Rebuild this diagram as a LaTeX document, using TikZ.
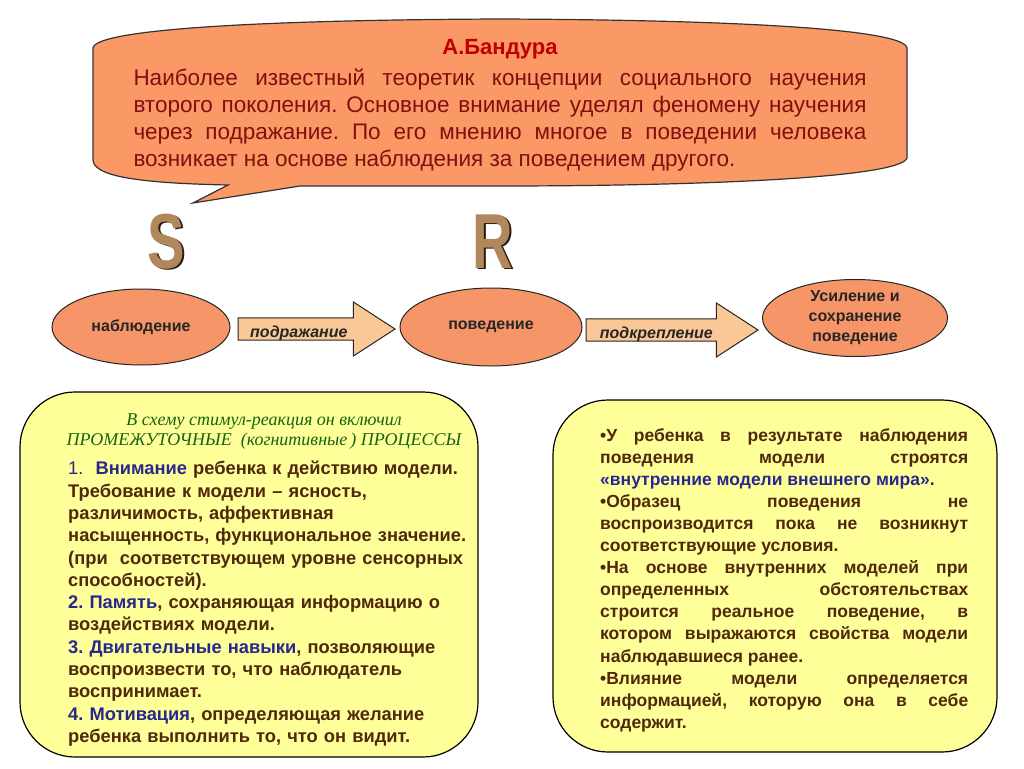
\documentclass[tikz,border=0pt]{standalone}
\usepackage{fontspec}
\setmainfont{Liberation Sans}
\newfontfamily\headfont{Liberation Serif}
\newfontfamily\srfont[FakeStretch=0.72]{Liberation Sans}
\usetikzlibrary{shapes.geometric,shapes.arrows,positioning}
\frenchspacing

\definecolor{bubbleorange}{RGB}{250,152,102}
\definecolor{stageorange}{RGB}{246,150,104}
\definecolor{peach}{RGB}{250,200,150}
\definecolor{paleyellow}{RGB}{255,255,153}
\definecolor{titlered}{RGB}{192,0,0}
\definecolor{bubbletext}{RGB}{128,16,16}
\definecolor{bodybrown}{RGB}{80,40,12}
\definecolor{keyblue}{RGB}{40,40,140}
\definecolor{headgreen}{RGB}{20,100,20}
\definecolor{lettertan}{RGB}{176,136,92}
\definecolor{letterdark}{RGB}{45,28,15}

\begin{document}
\begin{tikzpicture}
  [
   x=1pt,y=-1pt,
   bubble/.style={draw=black!80,line width=1.2pt,fill=bubbleorange},
   stage/.style={ellipse,draw=black!85,line width=1pt,fill=stageorange,inner sep=0pt,align=center,
                 font=\bfseries\fontsize{16}{20}\selectfont,text=black!85},
   blockarrow/.style={single arrow,draw=black!85,line width=1pt,fill=peach,inner sep=2pt,
                 text height=17pt,text depth=0pt,
                 minimum width=54pt,single arrow head extend=15.5pt,single arrow tip angle=66,
                 font=\bfseries\itshape\fontsize{16}{20}\selectfont,text=black!85},
   notebox/.style={draw=black,line width=1.2pt,fill=paleyellow,rounded corners=55pt,inner sep=0pt},
   letter/.style={font=\srfont\bfseries\fontsize{78}{78}\selectfont,inner sep=0pt}
  ]
   \useasboundingbox[fill=white] (0,0) rectangle (1024,768);

   % callout
   \draw[bubble] (93,48) .. controls (95,30) and (250,20) .. (500,19)
     .. controls (750,20) and (905,30) .. (907,48) -- (907,158)
     .. controls (900,178) and (700,186) .. (500,186) -- (300,186) -- (193,203) -- (228,185)
     .. controls (130,183) and (94,175) .. (93,160) -- cycle;
   \node[font=\bfseries\fontsize{22}{26}\selectfont,text=titlered] (author) at (500,49) {А.Бандура};
   \node[text width=733pt,align=justify,inner sep=0pt,anchor=north,text=bubbletext,
         font=\fontsize{22.5}{27}\selectfont] (bio) at (500,69)
     {Наиболее известный теоретик концепции социального научения\linebreak
      второго поколения. Основное внимание уделял феномену научения\linebreak
      через подражание. По его мнению многое в поведении человека\linebreak
      возникает на основе наблюдения за поведением другого.};

   % S and R
   \node[letter,text=letterdark] (sshade) at (168,243) {S};
   \node[letter,text=lettertan] (stim) at (166,242) {S};
   \node[letter,text=letterdark] (rshade) at (495,243) {R};
   \node[letter,text=lettertan] (resp) at (493,242) {R};

   % chain
   \node[stage,minimum width=178pt,minimum height=76pt] (watch) at (141,327) {наблюдение};
   \node[stage,minimum width=182pt,minimum height=78pt] (act) at (491,327) {поведение};
   \node[stage,minimum width=185pt,minimum height=77pt] (reinf) at (855,318) {Усиление и\\сохранение\\поведение};
   \node[blockarrow,minimum height=157pt,anchor=tail] (imitate) at ([xshift=7pt,yshift=-2pt]watch.east) {подражание\hspace*{18pt}};
   \node[blockarrow,minimum height=172pt,anchor=tail] (support) at ([xshift=3pt,yshift=-3pt]act.east) {подкрепление\hspace*{14pt}};

   % left box
   \node[notebox,minimum width=458pt,minimum height=365pt] (procbox) at (249,574.5) {};
   \node[font=\headfont\itshape\fontsize{18}{20}\selectfont,text=headgreen,align=center] (prochead) at (264,432)
     {В схему стимул-реакция он включил\\ПРОМЕЖУТОЧНЫЕ\ \ (когнитивные\,) ПРОЦЕССЫ};
   \node[anchor=north west,text width=420pt,align=left,inner sep=0pt,text=bodybrown,
         font=\bfseries\fontsize{18.3}{22.3}\selectfont] (proclist) at (68,461)
     {{\mdseries\color{keyblue}1.}\ \ {\color{keyblue}Внимание} ребенка к действию модели.\\
      Требование к модели – ясность,\\
      различимость, аффективная\\
      насыщенность, функциональное значение.\\
      (при\ \ соответствующем уровне сенсорных\\
      способностей).\\
      {\color{keyblue}2. Память}, сохраняющая информацию о\\
      воздействиях модели.\\
      {\color{keyblue}3. Двигательные навыки}, позволяющие\\
      воспроизвести то, что наблюдатель\\
      воспринимает.\\
      {\color{keyblue}4. Мотивация}, определяющая желание\\
      ребенка выполнить то, что он видит.};

   % right box
   \node[notebox,minimum width=444pt,minimum height=352pt] (modelbox) at (775,576) {};
   \node[anchor=north west,text width=368pt,align=justify,inner sep=0pt,text=bodybrown,
         font=\bfseries\fontsize{17.5}{22.1}\selectfont] (modellist) at (600,428)
     {•У ребенка в результате наблюдения\linebreak
      поведения модели строятся\linebreak
      {\color{keyblue}«внутренние модели внешнего мира»}.\par
      •Образец поведения не\linebreak
      воспроизводится пока не возникнут\linebreak
      соответствующие условия.\par
      •На основе внутренних моделей при\linebreak
      определенных обстоятельствах\linebreak
      строится реальное поведение, в\linebreak
      котором выражаются свойства модели\linebreak
      наблюдавшиеся ранее.\par
      •Влияние модели определяется\linebreak
      информацией, которую она в себе\linebreak
      содержит.};
\end{tikzpicture}
\end{document}
